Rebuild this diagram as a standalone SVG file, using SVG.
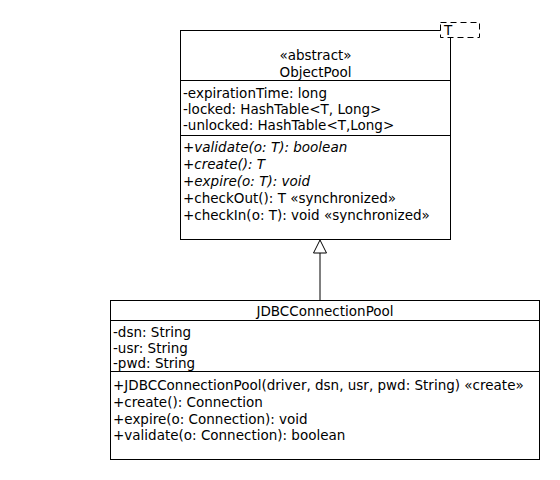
<svg xmlns="http://www.w3.org/2000/svg" width="560" height="480" viewBox="0 0 560 480">
<style>
.box{fill:#fff;stroke:#000;stroke-width:1}
.sep{stroke:#000;stroke-width:1}
text{font-family:"DejaVu Sans","Liberation Sans",sans-serif;font-size:13.5px;fill:#000}
.c{text-anchor:middle}
.i{font-style:italic}
.edge{stroke:#000;stroke-width:1;fill:none}
.tri{fill:#fff;stroke:#000;stroke-width:1}
</style>
<rect width="560" height="480" fill="#fff"/>
<g id="connectors">
<line class="edge" x1="320" y1="253" x2="320" y2="300.5"/>
<polygon class="tri" points="320,240 313.5,253 326.5,253"/>
</g>
<g id="ObjectPool">
<rect class="box" x="180.5" y="30.5" width="270" height="209"/>
<line class="sep" x1="180.5" y1="80.5" x2="450.5" y2="80.5"/>
<line class="sep" x1="180.5" y1="135.5" x2="450.5" y2="135.5"/>
<text class="c" x="315.5" y="60">«abstract»</text>
<text class="c" x="315.5" y="77">ObjectPool</text>
<text x="183" y="97.5">-expirationTime: long</text>
<text x="183" y="114">-locked: HashTable&lt;T, Long&gt;</text>
<text x="183" y="130">-unlocked: HashTable&lt;T,Long&gt;</text>
<text class="i" x="183" y="151.5">+validate(o: T): boolean</text>
<text class="i" x="183" y="168.5">+create(): T</text>
<text class="i" x="183" y="185.5">+expire(o: T): void</text>
<text x="183" y="202.5">+checkOut(): T «synchronized»</text>
<text x="183" y="219.5">+checkIn(o: T): void «synchronized»</text>
<g id="ObjectPool-T">
<rect x="440.5" y="22.5" width="39" height="15" fill="#fff" stroke="#000" stroke-width="1" stroke-dasharray="6,4"/>
<text x="444" y="35">T</text>
</g>
</g>
<g id="JDBCConnectionPool">
<rect class="box" x="110.5" y="300.5" width="429" height="159"/>
<line class="sep" x1="110.5" y1="320.5" x2="539.5" y2="320.5"/>
<line class="sep" x1="110.5" y1="371.5" x2="539.5" y2="371.5"/>
<text class="c" x="325" y="316">JDBCConnectionPool</text>
<text x="113" y="336.5">-dsn: String</text>
<text x="113" y="352.5">-usr: String</text>
<text x="113" y="368">-pwd: String</text>
<text x="113" y="390">+JDBCConnectionPool(driver, dsn, usr, pwd: String) «create»</text>
<text x="113" y="407">+create(): Connection</text>
<text x="113" y="423.5">+expire(o: Connection): void</text>
<text x="113" y="440">+validate(o: Connection): boolean</text>
</g>
</svg>
